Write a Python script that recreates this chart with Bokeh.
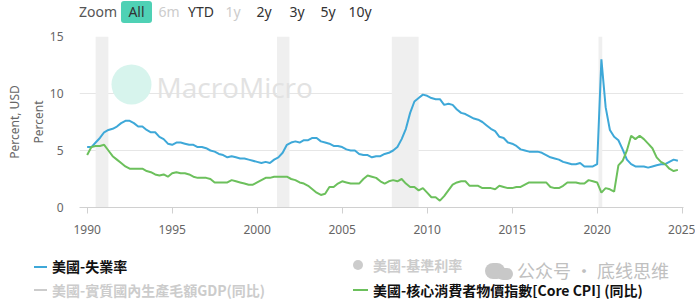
from bokeh.plotting import figure
from bokeh.layouts import column
from bokeh.models import Range1d, FixedTicker, LinearAxis, Label, BoxAnnotation, Div
from bokeh.embed import file_html
from bokeh.resources import INLINE

# ---------------- data (quarterly) ----------------
years = list(range(1990, 2025))
unemployment = [
    5.3, 5.3, 5.7, 6.1,   # 1990
    6.6, 6.8, 6.9, 7.1,   # 1991
    7.4, 7.6, 7.6, 7.4,   # 1992
    7.1, 7.1, 6.8, 6.6,   # 1993
    6.6, 6.2, 6.0, 5.6,   # 1994
    5.5, 5.7, 5.7, 5.6,   # 1995
    5.5, 5.5, 5.3, 5.3,   # 1996
    5.2, 5.0, 4.9, 4.7,   # 1997
    4.6, 4.4, 4.5, 4.4,   # 1998
    4.3, 4.3, 4.2, 4.1,   # 1999
    4.0, 3.9, 4.0, 3.9,   # 2000
    4.2, 4.4, 4.8, 5.5,   # 2001
    5.7, 5.8, 5.7, 5.9,   # 2002
    5.9, 6.1, 6.1, 5.8,   # 2003
    5.7, 5.6, 5.4, 5.4,   # 2004
    5.3, 5.1, 5.0, 5.0,   # 2005
    4.7, 4.6, 4.6, 4.4,   # 2006
    4.5, 4.5, 4.7, 4.8,   # 2007
    5.0, 5.3, 6.0, 6.9,   # 2008
    8.3, 9.3, 9.6, 9.9,   # 2009
    9.8, 9.6, 9.5, 9.5,   # 2010
    9.0, 9.1, 9.0, 8.6,   # 2011
    8.3, 8.2, 8.0, 7.8,   # 2012
    7.7, 7.5, 7.2, 6.9,   # 2013
    6.7, 6.2, 6.1, 5.7,   # 2014
    5.6, 5.4, 5.1, 5.0,   # 2015
    4.9, 4.9, 4.9, 4.8,   # 2016
    4.6, 4.4, 4.3, 4.2,   # 2017
    4.0, 3.9, 3.8, 3.8,   # 2018
    3.9, 3.6, 3.6, 3.6,   # 2019
    3.8, 13.0, 8.8, 6.8,  # 2020
    6.2, 5.9, 5.1, 4.2,   # 2021
    3.8, 3.6, 3.6, 3.6,   # 2022
    3.5, 3.6, 3.7, 3.8,   # 2023
    3.8, 4.0, 4.2, 4.1,   # 2024
]
core_cpi = [
    4.6, 5.3, 5.4, 5.4,   # 1990
    5.5, 5.0, 4.5, 4.2,   # 1991
    3.9, 3.6, 3.4, 3.4,   # 1992
    3.4, 3.4, 3.2, 3.1,   # 1993
    2.9, 2.8, 2.9, 2.7,   # 1994
    3.0, 3.1, 3.0, 3.0,   # 1995
    2.9, 2.7, 2.6, 2.6,   # 1996
    2.6, 2.5, 2.2, 2.2,   # 1997
    2.2, 2.2, 2.4, 2.3,   # 1998
    2.2, 2.1, 2.0, 2.0,   # 1999
    2.2, 2.4, 2.6, 2.6,   # 2000
    2.7, 2.7, 2.7, 2.7,   # 2001
    2.5, 2.4, 2.2, 2.1,   # 2002
    1.9, 1.6, 1.3, 1.1,   # 2003
    1.2, 1.8, 1.8, 2.1,   # 2004
    2.3, 2.2, 2.1, 2.1,   # 2005
    2.1, 2.5, 2.8, 2.7,   # 2006
    2.6, 2.3, 2.1, 2.3,   # 2007
    2.4, 2.3, 2.5, 2.1,   # 2008
    1.8, 1.8, 1.5, 1.7,   # 2009
    1.3, 0.9, 0.9, 0.6,   # 2010
    1.0, 1.5, 2.0, 2.2,   # 2011
    2.3, 2.3, 1.9, 1.9,   # 2012
    1.9, 1.7, 1.7, 1.7,   # 2013
    1.6, 1.9, 1.8, 1.7,   # 2014
    1.7, 1.8, 1.8, 2.0,   # 2015
    2.2, 2.2, 2.2, 2.2,   # 2016
    2.2, 1.8, 1.7, 1.7,   # 2017
    1.9, 2.2, 2.2, 2.2,   # 2018
    2.1, 2.1, 2.4, 2.3,   # 2019
    2.2, 1.3, 1.7, 1.6,   # 2020
    1.4, 3.7, 4.1, 5.0,   # 2021
    6.3, 6.0, 6.3, 6.0,   # 2022
    5.6, 5.2, 4.4, 4.0,   # 2023
    3.8, 3.4, 3.2, 3.3,   # 2024
]
recession_start = [1990.5, 2001.17, 2007.92, 2020.08]
recession_end = [1991.25, 2001.9, 2009.5, 2020.3]
x_ticks = [1990, 1995, 2000, 2005, 2010, 2015, 2020, 2025]
y_ticks = [0, 5, 10, 15]
range_buttons = ["6m", "YTD", "1y", "2y", "3y", "5y", "10y"]
range_enabled = [False, True, False, True, True, True, True]
legend_names = ["美國-失業率", "美國-基準利率", "美國-實質國內生產毛額GDP(同比)",
                "美國-核心消費者物價指數[Core CPI] (同比)"]

quarters = [y + q * 0.25 for y in years for q in range(4)]

# ---------------- layout constants ----------------
W, H = 695, 301
HEAD_H = 28
LEG_TOP = 245
LEG_H = H - LEG_TOP
FL, FR, FT, FB = 79, 683, 36, 207          # frame edges in page pixels
MAIN_H = LEG_TOP - HEAD_H
BLUE = "#3ea8d8"
GREEN = "#6cc05c"
FONT = "Noto Sans"
CJK = "Noto Sans CJK TC"


def span(text, left, cy, color, size=14, lh=18, font=FONT, weight="normal", width=None):
    w = f"width:{width}px;text-align:center;" if width else ""
    return (f'<div style="position:absolute;left:{left}px;top:{cy - lh / 2}px;height:{lh}px;'
            f'line-height:{lh}px;font-size:{size}px;font-family:\'{font}\';font-weight:{weight};'
            f'color:{color};white-space:nowrap;{w}">{text}</div>')


def rect(x0, x1, y0, y1, color, radius=0):
    return (f'<div style="position:absolute;left:{x0}px;top:{y0}px;width:{x1 - x0}px;'
            f'height:{y1 - y0}px;background:{color};border-radius:{radius}px;"></div>')


def wrap(inner, h):
    return (f'<div style="position:relative;width:{W}px;height:{h}px;overflow:visible;'
            f'background:white;">{inner}</div>')


# ---------------- header: range selector ----------------
hparts = [span("Zoom", 79, 12, "#555555", lh=20)]
hparts.append(rect(121, 152, 1, 23, "#4fd1b5", radius=3))
hparts.append(span("All", 121, 12, "#333333", lh=20, width=31))
btn_x = [169, 201, 233, 264, 297, 328, 360]
for t, en, cx in zip(range_buttons, range_enabled, btn_x):
    hparts.append(span(t, cx - 20, 12, "#333333" if en else "#cccccc", lh=20, width=40))
head = Div(text=wrap("".join(hparts), HEAD_H), width=W, height=HEAD_H, margin=0)

# ---------------- main chart ----------------
p = figure(width=W, height=MAIN_H, x_range=Range1d(1989.55, 2025.08), y_range=Range1d(0, 15),
           output_backend="svg", toolbar_location=None,
           min_border_left=FL, min_border_right=W - FR,
           min_border_top=FT - HEAD_H, min_border_bottom=LEG_TOP - FB, margin=0)
p.outline_line_color = None
p.background_fill_color = "white"
p.border_fill_color = "white"

for a, b in zip(recession_start, recession_end):
    p.add_layout(BoxAnnotation(left=a, right=b, fill_color="#efefef", fill_alpha=1.0,
                               line_color=None, level="underlay"))

p.xgrid.visible = False
p.ygrid.ticker = FixedTicker(ticks=y_ticks)
p.ygrid.grid_line_color = "#e6e6e6"

# MacroMicro watermark (frame-relative screen units)
p.add_layout(BoxAnnotation(left=111 - FL, right=151 - FL, top=FB - 64, bottom=FB - 104,
                           left_units="screen", right_units="screen",
                           top_units="screen", bottom_units="screen",
                           fill_color="#d7f4ed", fill_alpha=1.0, line_color=None,
                           border_radius=20, level="underlay"))
p.add_layout(Label(x=156 - FL, y=FB - 86, x_units="screen", y_units="screen", text="MacroMicro",
                   text_font="Open Sans", text_font_size="28px", text_color="#e2e2e2",
                   text_baseline="middle"))

p.line(quarters, unemployment, line_color=BLUE, line_width=2)
p.line(quarters, core_cpi, line_color=GREEN, line_width=2)

xa = p.xaxis[0]
xa.ticker = FixedTicker(ticks=x_ticks)
xa.axis_line_color = "#d0d0d0"
xa.major_tick_line_color = "#d0d0d0"
xa.major_tick_in = 0
xa.major_tick_out = 6
xa.minor_tick_line_color = None
xa.major_label_standoff = 11
xa.major_label_text_font = FONT
xa.major_label_text_font_size = "12px"
xa.major_label_text_color = "#666666"

ya = p.yaxis[0]
ya.ticker = FixedTicker(ticks=y_ticks)
ya.axis_line_color = None
ya.major_tick_line_color = None
ya.minor_tick_line_color = None
ya.major_tick_out = 0
ya.major_tick_in = 0
ya.major_label_standoff = 16
ya.major_label_text_font = FONT
ya.major_label_text_font_size = "12px"
ya.major_label_text_color = "#666666"
ya.axis_label = "Percent"
ya.axis_label_text_font = FONT
ya.axis_label_text_font_size = "12px"
ya.axis_label_text_font_style = "normal"
ya.axis_label_text_color = "#666666"
ya.axis_label_standoff = 0

ya2 = LinearAxis(ticker=FixedTicker(ticks=[]), axis_label="Percent, USD")
ya2.axis_line_color = None
ya2.major_tick_line_color = None
ya2.minor_tick_line_color = None
ya2.major_tick_out = 0
ya2.major_label_standoff = 0
ya2.axis_label_text_font = FONT
ya2.axis_label_text_font_size = "12px"
ya2.axis_label_text_font_style = "normal"
ya2.axis_label_text_color = "#666666"
ya2.axis_label_standoff = 4
p.add_layout(ya2, "left")

# ---------------- legend (page y -> local y) ----------------
def ly(cy):
    return cy - LEG_TOP


lparts = []
lparts.append(rect(34, 47, ly(265.5), ly(267.5), BLUE))
lparts.append(span(legend_names[0], 52, ly(266), "#111111", font=CJK, weight="bold"))
lparts.append(rect(353, 363, ly(260), ly(270), "#cccccc", radius=5))
lparts.append(span(legend_names[1], 373, ly(265), "#cccccc", font=CJK, weight="bold"))
lparts.append(rect(34, 47, ly(289), ly(291), "#cccccc"))
lparts.append(span(legend_names[2], 52, ly(290), "#cccccc", font=CJK, weight="bold"))
lparts.append(rect(353, 368, ly(289), ly(291), GREEN))
lparts.append(span(legend_names[3], 373, ly(290), "#111111", font=CJK, weight="bold"))
# WeChat watermark
lparts.append(rect(485, 505, ly(263), ly(279), "#c8c8c8", radius=9))
lparts.append(rect(497, 513, ly(268), ly(280), "#c8c8c8", radius=8))
lparts.append(span("公众号 · 底线思维", 517, ly(270), "#c0c0c0", size=18, lh=18, font="Noto Sans CJK SC"))
leg = Div(text=wrap("".join(lparts), LEG_H), width=W, height=LEG_H, margin=0)

layout = column(head, p, leg, spacing=0)
open("out.html", "w").write(file_html(layout, INLINE))
